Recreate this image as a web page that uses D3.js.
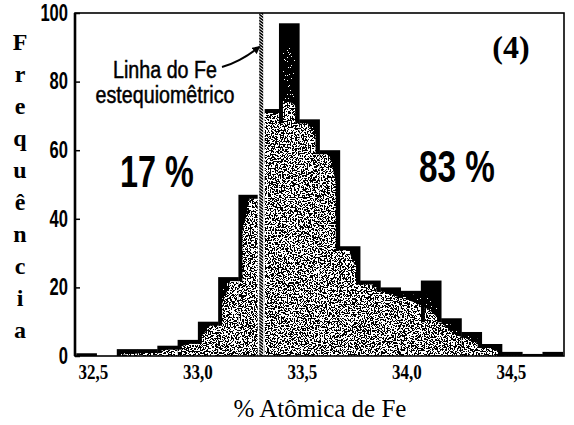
<!DOCTYPE html>
<html>
<head>
<meta charset="utf-8">
<script src="https://cdn.jsdelivr.net/npm/d3@7"></script>
<style>
  html, body { margin: 0; padding: 0; background: #fff; }
  svg { display: block; }
</style>
</head>
<body>
<script>
// ---------------- DATA ----------------
const xTicks = [32.5, 33.0, 33.5, 34.0, 34.5];
const yTicks = [0, 20, 40, 60, 80, 100];
const binLeft = [32.420, 32.517, 32.614, 32.711, 32.808, 32.905, 33.002, 33.099,
                 33.196, 33.293, 33.390, 33.487, 33.584, 33.681, 33.778, 33.875,
                 33.972, 34.069, 34.166, 34.263, 34.360, 34.457, 34.554, 34.651];
const binWidth = 0.097;
const counts = [0.8, 0, 2, 2, 3, 4.7, 10, 23, 47, 72, 97, 69,
                60, 32, 22, 20, 19, 22, 11, 7, 3.5, 1.2, 0.6, 1.2];
// upper limit of the speckled (grey) fill inside the bars
const shade = [0, 0, 0.5, 1, 2, 3.5, 8, 20, 44, 74, 74, 67,
               58, 30, 21, 18, 16, 13, 7, 4.5, 2, 0.5, 0, 0];
// upper limit of the sparse, fuzzy fringe above the speckled fill
const fringe = [0, 0, 1, 2, 3.5, 5.5, 11, 24, 47, 78, 90, 69,
                60, 32, 22, 20, 19, 17, 9, 6, 3, 1, 0, 0];
const feLine = 33.305;
const xTitle = "% Atômica de Fe";
const yTitle = "Frequência";
const lineLabel = ["Linha do Fe", "estequiomêtrico"];
const leftPct = "17 %";
const rightPct = "83 %";
const panelTag = "(4)";

// ---------------- LAYOUT ----------------
const W = 574, H = 425;
const L = 75, R = 564, T = 13, B = 356;
const SANS = "Liberation Sans, Arial, Helvetica, sans-serif";
const SERIF = "Liberation Serif, DejaVu Serif, Noto Serif, Times New Roman, serif";

const x = d3.scaleLinear().domain([32.414, 34.754]).range([L, R]);
const y = d3.scaleLinear().domain([0, 100]).range([B, T]);

const svg = d3.select("body").append("svg").attr("width", W).attr("height", H);
const defs = svg.append("defs");

// speckle filters (dense and sparse)
function speckleFilter(id, table, seed) {
  const f = defs.append("filter").attr("id", id)
    .attr("x", 0).attr("y", 0).attr("width", 1).attr("height", 1)
    .attr("color-interpolation-filters", "sRGB");
  f.append("feTurbulence").attr("type", "fractalNoise").attr("baseFrequency", 0.7)
    .attr("numOctaves", 2).attr("seed", seed).attr("result", "t");
  f.append("feColorMatrix").attr("type", "matrix")
    .attr("values", "0 0 0 0 1  0 0 0 0 1  0 0 0 0 1  1 0 0 0 0");
  f.append("feComponentTransfer").append("feFuncA")
    .attr("type", "discrete").attr("tableValues", table);
}
speckleFilter("speckle", "0 0 0 0 0 1 1 1 1 1", 11);
speckleFilter("sparse", "0 0 0 0 0 0 0 1 1 1", 5);

// hatch pattern for the stoichiometric line
const pat = defs.append("pattern").attr("id", "hatch").attr("patternUnits", "userSpaceOnUse")
  .attr("width", 4).attr("height", 3);
pat.append("rect").attr("width", 4).attr("height", 3).attr("fill", "#fff");
pat.append("path").attr("d", "M0,0 L4,3 M-1,2.25 L1,3.75 M3,-0.75 L5,0.75")
  .attr("stroke", "#000").attr("stroke-width", 1.5);

// arrow marker
defs.append("marker").attr("id", "arrow").attr("viewBox", "0 0 10 10")
  .attr("refX", 8).attr("refY", 5).attr("markerWidth", 4).attr("markerHeight", 4)
  .attr("orient", "auto")
  .append("path").attr("d", "M0,0 L10,5 L0,10 z").attr("fill", "#000");

const bins = counts.map((c, i) => ({
  x0: x(binLeft[i]), x1: x(binLeft[i] + binWidth),
  c, prev: i > 0 ? counts[i - 1] : 0, next: i < counts.length - 1 ? counts[i + 1] : 0,
  center: binLeft[i] + binWidth / 2, s: shade[i], fr: fringe[i]
}));

// clip: histogram shape inset from its outline
const inset = 4;
const cp = defs.append("clipPath").attr("id", "barsInset");
bins.forEach(b => {
  if (b.c <= 0) return;
  const low = Math.min(b.c, b.prev, b.next);
  if (low > 0) {
    cp.append("rect").attr("x", b.x0).attr("width", b.x1 - b.x0)
      .attr("y", y(low) + inset).attr("height", Math.max(0, B - y(low) - inset));
  }
  const lx = b.x0 + (b.prev < b.c ? inset : 0);
  const rx = b.x1 - (b.next < b.c ? inset : 0);
  cp.append("rect").attr("x", lx).attr("width", Math.max(0, rx - lx))
    .attr("y", y(b.c) + inset).attr("height", Math.max(0, B - y(b.c) - inset));
});

// clips: smooth envelopes of speckled area and its fringe
const area = key => d3.area().x(d => x(d.center)).y0(B + 2).y1(d => y(d[key]))
  .curve(d3.curveMonotoneX);
defs.append("clipPath").attr("id", "shadeArea").append("path").attr("d", area("s")(bins));
defs.append("clipPath").attr("id", "fringeArea").append("path").attr("d", area("fr")(bins));

// bars (black)
svg.append("g").selectAll("rect").data(bins).join("rect")
  .attr("x", d => d.x0).attr("width", d => d.x1 - d.x0 + 0.4)
  .attr("y", d => y(d.c)).attr("height", d => B - y(d.c))
  .attr("fill", "#000");

// speckle inside bars
const sg = svg.append("g").attr("clip-path", "url(#barsInset)");
sg.append("rect").attr("x", L).attr("y", T).attr("width", R - L).attr("height", B - T)
  .attr("clip-path", "url(#fringeArea)")
  .attr("filter", "url(#sparse)");
sg.append("rect").attr("x", L).attr("y", T).attr("width", R - L).attr("height", B - T)
  .attr("clip-path", "url(#shadeArea)")
  .attr("filter", "url(#speckle)");

// stoichiometric Fe line
const fx = x(feLine);
svg.append("rect").attr("x", fx - 3.5).attr("y", T).attr("width", 7).attr("height", B - T)
  .attr("fill", "#fff");
svg.append("rect").attr("x", fx - 2).attr("y", T).attr("width", 4).attr("height", B - T)
  .attr("fill", "url(#hatch)");

// frame
svg.append("rect").attr("x", L).attr("y", T).attr("width", R - L).attr("height", B - T)
  .attr("fill", "none").attr("stroke", "#000").attr("stroke-width", 1.6);
svg.append("line").attr("x1", L).attr("x2", L).attr("y1", T).attr("y2", B)
  .attr("stroke", "#000").attr("stroke-width", 2.6);

// axes
const yScaleX = 0.72;
const yAxis = d3.axisLeft(y).tickValues(yTicks).tickSize(-5).tickSizeOuter(0).tickPadding(7);
const gy = svg.append("g").attr("transform", `translate(${L},0)`).call(yAxis);
gy.select(".domain").remove();
gy.selectAll("line").attr("stroke", "#000").attr("stroke-width", 1.5);
gy.selectAll("text").attr("font-family", SANS)
  .attr("font-weight", "bold").attr("font-size", 23).attr("fill", "#000")
  .attr("x", -7 / yScaleX).attr("transform", `scale(${yScaleX},1)`);

const xAxis = d3.axisBottom(x).tickValues(xTicks).tickSize(0).tickPadding(9)
  .tickFormat(d => d3.format(".1f")(d).replace(".", ","));
const gx = svg.append("g").attr("transform", `translate(0,${B})`).call(xAxis);
gx.select(".domain").remove();
gx.selectAll("text").attr("font-family", SERIF)
  .attr("font-weight", "bold").attr("font-size", 20).attr("fill", "#000")
  .attr("transform", "scale(0.85,1)");

// helper for horizontally condensed text
function label(px, py, str, size, opts = {}) {
  const t = svg.append("text")
    .attr("transform", `translate(${px},${py}) scale(${opts.sx || 1},1)`)
    .attr("text-anchor", opts.anchor || "middle")
    .attr("font-family", opts.family || SANS)
    .attr("font-weight", opts.weight || "normal")
    .attr("font-size", size).attr("fill", "#000").text(str);
  if (opts.stroke) t.attr("stroke", "#000").attr("stroke-width", opts.stroke);
  return t;
}

// axis titles
label(320, 417, xTitle, 25, { family: SERIF });
svg.append("g").selectAll("text").data(Array.from(yTitle)).join("text")
  .attr("x", 20).attr("y", (d, i) => 50 + i * 32).attr("text-anchor", "middle")
  .attr("font-family", SERIF)
  .attr("font-weight", "bold").attr("font-size", 24).attr("fill", "#000")
  .text(d => d);

// annotations
label(165, 78, lineLabel[0], 24, { sx: 0.82, stroke: 0.5 });
label(165, 103, lineLabel[1], 24, { sx: 0.82, stroke: 0.5 });

svg.append("path").attr("d", `M${222},${67} Q${240},${62} ${fx - 2},${47}`)
  .attr("fill", "none").attr("stroke", "#000").attr("stroke-width", 2)
  .attr("marker-end", "url(#arrow)");

label(157, 187, leftPct, 45, { sx: 0.72, weight: "bold" });
label(457, 182, rightPct, 45, { sx: 0.74, weight: "bold" });
label(511, 58, panelTag, 32, { family: SERIF, weight: "bold" });
</script>
</body>
</html>
